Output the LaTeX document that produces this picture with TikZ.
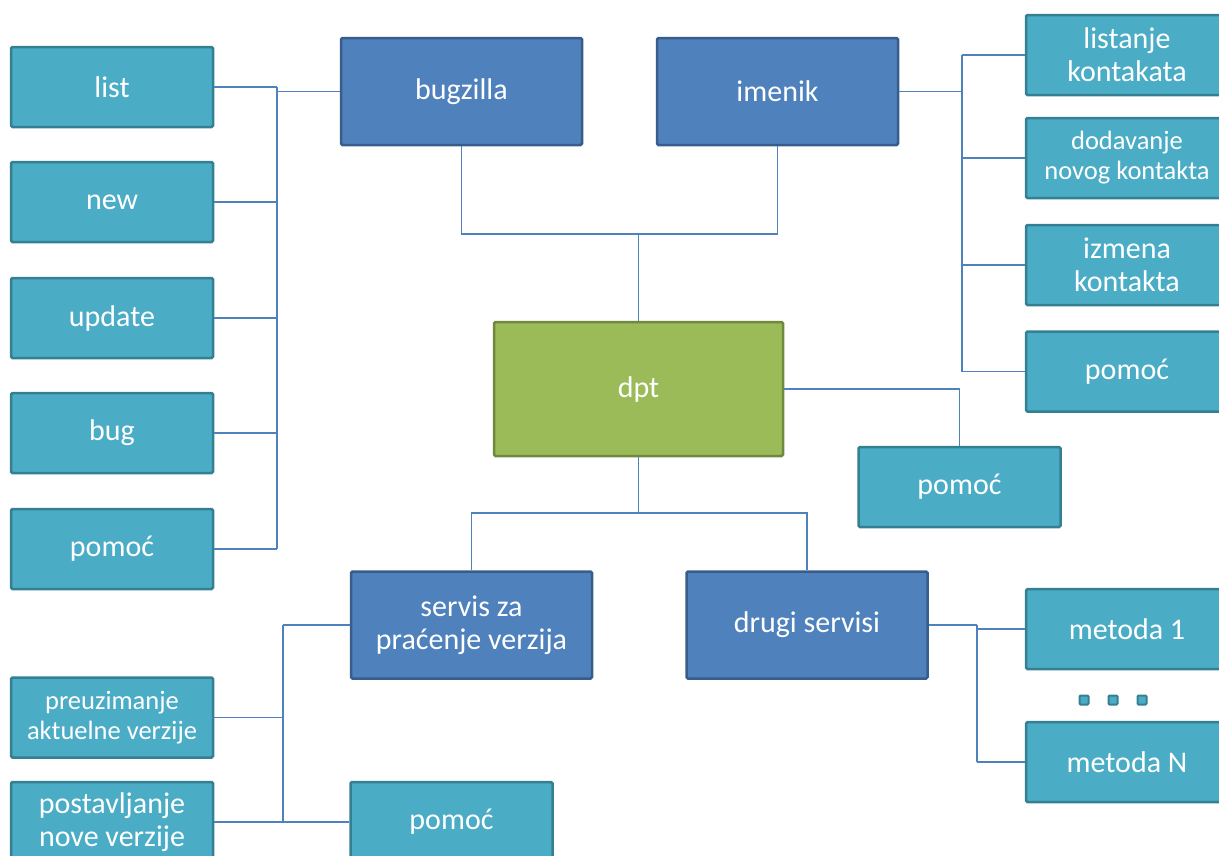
\documentclass[tikz,border=0pt]{standalone}
\usepackage{fontspec}
\setmainfont{Carlito}
\definecolor{tealf}{HTML}{4BACC6}
\definecolor{teald}{HTML}{357F92}
\definecolor{bluef}{HTML}{4F81BD}
\definecolor{blued}{HTML}{385D8A}
\definecolor{greenf}{HTML}{9BBB59}
\definecolor{greend}{HTML}{71893F}
\begin{document}
\begin{tikzpicture}[x=1pt,y=-1pt,
  box/.style={draw, line width=2.5pt, rounded corners=1.5pt, text=white, align=center, inner sep=0pt, font=\fontsize{30}{33}\selectfont},
  tbox/.style={box, fill=tealf, draw=teald, minimum width=202pt, minimum height=80pt},
  bbox/.style={box, fill=bluef, draw=blued, minimum width=241pt, minimum height=107pt},
  gbox/.style={box, fill=greenf, draw=greend, minimum width=289pt, minimum height=134pt},
  small/.style={font=\fontsize{26.5}{30}\selectfont},
  dot/.style={draw=teald, fill=tealf, line width=2pt, rounded corners=1pt, minimum size=9pt, inner sep=0pt},
  conn/.style={draw=bluef, line width=1.5pt}]
\useasboundingbox (0,0) rectangle (1219,855);
% left column
\node[tbox] (list) at (112,87) {list};
\node[tbox] (new) at (112,202) {new};
\node[tbox] (update) at (112,318) {update};
\node[tbox] (bug) at (112,433) {bug};
\node[tbox] (lpomoc) at (112,549) {pomoć};
% top
\node[bbox] (bugzilla) at (461.5,91.5) {bugzilla};
\node[bbox] (imenik) at (777.5,91.5) {imenik};
% right column
\node[tbox] (listanje) at (1127,55) {listanje\\kontakata};
\node[tbox, small] (dodavanje) at (1127,158) {dodavanje\\novog kontakta};
\node[tbox] (izmena) at (1127,265) {izmena\\kontakta};
\node[tbox] (rpomoc) at (1127,371.5) {pomoć};
% center
\node[gbox] (dpt) at (638.5,389) {dpt};
\node[tbox] (mpomoc) at (959.5,487) {pomoć};
% bottom
\node[bbox] (servis) at (471.5,625) {servis za\\praćenje verzija};
\node[bbox] (drugi) at (807,625) {drugi servisi};
\node[tbox] (metoda1) at (1127,629) {metoda 1};
\node[tbox] (metodaN) at (1127,762) {metoda N};
\node[dot] (d1) at (1084,700) {};
\node[dot] (d2) at (1113,700) {};
\node[dot] (d3) at (1142,700) {};
\node[tbox, small] (preuz) at (112,717.5) {preuzimanje\\aktuelne verzije};
\node[tbox] (postav) at (112,822) {postavljanje\\nove verzije};
\node[tbox] (bpomoc) at (451.5,822) {pomoć};
% bus coordinates
\coordinate (bL) at (277,0);
\coordinate (bR) at (962,0);
\coordinate (bS) at (283,0);
\coordinate (bD) at (977,0);
\coordinate (jt) at (639,234);
\coordinate (jb) at (639,513);
% left bus
\foreach \n in {list,new,update,bug,lpomoc}
  \draw[conn] (\n.east) -- (\n.east -| bL);
\draw[conn] (list.east -| bL) -- (lpomoc.east -| bL);
\draw[conn] (bugzilla.west) -- (bugzilla.west -| bL);
% top join
\draw[conn] (bugzilla.south) |- (jt) -| (imenik.south);
\draw[conn] (dpt.north) -- (dpt.north |- jt);
% right bus
\foreach \n in {listanje,dodavanje,izmena,rpomoc}
  \draw[conn] (\n.west) -- (\n.west -| bR);
\draw[conn] (listanje.west -| bR) -- (rpomoc.west -| bR);
\draw[conn] (imenik.east) -- (imenik.east -| bR);
% dpt to pomoc
\draw[conn] (dpt.east) -| (mpomoc.north);
% bottom join
\draw[conn] (dpt.south) -- (dpt.south |- jb);
\draw[conn] (servis.north) |- (jb) -| (drugi.north);
% servis bus
\draw[conn] (servis.west) -- (servis.west -| bS);
\draw[conn] (preuz.east) -- (preuz.east -| bS);
\draw[conn] (postav.east) -- (postav.east -| bS);
\draw[conn] (bpomoc.west) -- (bpomoc.west -| bS);
\draw[conn] (servis.west -| bS) -- (postav.east -| bS);
% drugi bus
\draw[conn] (drugi.east) -- (drugi.east -| bD);
\draw[conn] (metoda1.west) -- (metoda1.west -| bD);
\draw[conn] (metodaN.west) -- (metodaN.west -| bD);
\draw[conn] (drugi.east -| bD) -- (metodaN.west -| bD);
\end{tikzpicture}
\end{document}
